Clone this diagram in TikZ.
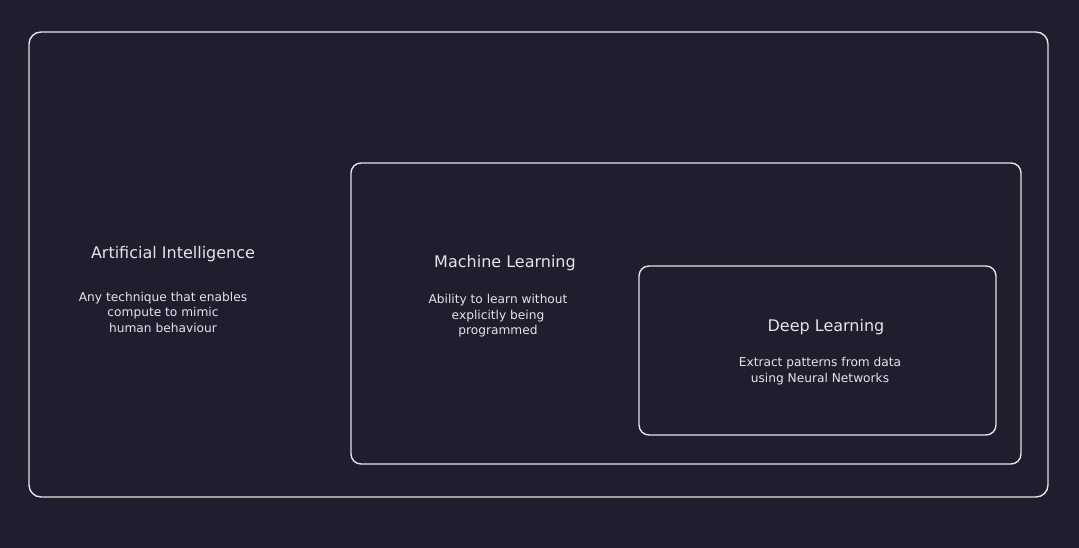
\documentclass[tikz,border=0pt]{standalone}
\usepackage{fontspec}
\setmainfont{DejaVu Sans}
\definecolor{bg}{HTML}{1E1E2E}
\definecolor{ln}{HTML}{E4E4E8}
\begin{document}
\begin{tikzpicture}[x=1pt,y=-1pt,
  box/.style={draw=ln,line width=1.4pt},
  ttl/.style={text=ln,font=\fontsize{16}{19}\selectfont,inner sep=0pt},
  dsc/.style={text=ln,font=\fontsize{12.2}{15.5}\selectfont,align=center,inner sep=0pt}]
\fill[bg] (0,0) rectangle (1079,548);
\useasboundingbox (0,0) rectangle (1079,548);
\draw[box,rounded corners=12pt] (29,32) rectangle (1048,497);
\draw[box,rounded corners=10pt] (351,163) rectangle (1021,464);
\draw[box,rounded corners=10pt] (639,266) rectangle (996,435);
\node[ttl] (ai) at (173,254) {Artificial Intelligence};
\node[dsc] (aid) at (163,312) {Any technique that enables\\compute to mimic\\human behaviour};
\node[ttl] (ml) at (505,263) {Machine Learning};
\node[dsc] (mld) at (498,316) {Ability to learn without\\explicitly being\\programmed};
\node[ttl] (dl) at (826,327) {Deep Learning};
\node[dsc] (dld) at (820,371) {Extract patterns from data\\using Neural Networks};
\end{tikzpicture}
\end{document}
